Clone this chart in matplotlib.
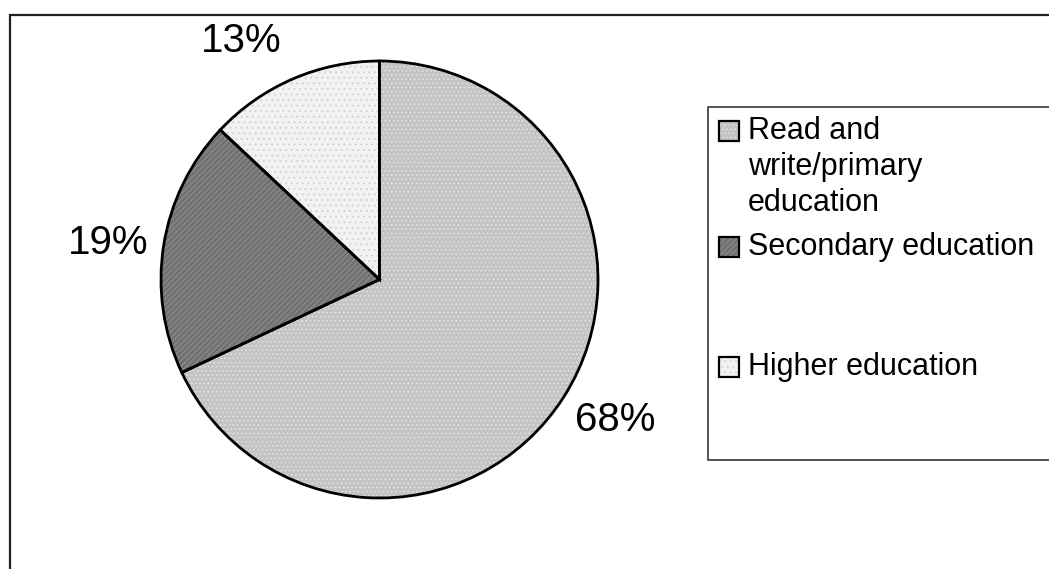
import matplotlib
matplotlib.use("Agg")
import matplotlib.pyplot as plt
from matplotlib.patches import Rectangle, Wedge

plt.rcParams['font.family'] = ['Liberation Sans', 'DejaVu Sans']
plt.rcParams['hatch.linewidth'] = 0.6

# Education level distribution
categories = ["Read and\nwrite/primary\neducation", "Secondary education", "Higher education"]
shares = [68, 19, 13]
fills = ["#c4c4c4", "#808080", "#f2f2f2"]
hatch_colors = ["#e4e4e4", "#5e5e5e", "#cfcfcf"]
hatches = ["....", "//////", "..."]

# Percentage label placement (pie-radius units from the centre)
label_xy = [(1.078, -0.643), (-1.243, 0.167), (-0.634, 1.092)]

W, H = 1049, 569
fig = plt.figure(figsize=(W / 100, H / 100), dpi=100)

# Full-figure overlay in pixel units for the frame and the legend
bg = fig.add_axes([0, 0, 1, 1])
bg.set_xlim(0, W)
bg.set_ylim(H, 0)
bg.axis("off")

# Chart area border (open at right and bottom edges)
bg.plot([10, 10, W + 5], [H + 5, 15, 15], color="#222222", lw=1.6,
        solid_joinstyle="miter")

# Pie
cx, cy, r = 379.5, 279.5, 218.5
pie_ax = fig.add_axes([(cx - r) / W, (H - cy - r) / H, 2 * r / W, 2 * r / H])
wedges, _, pct_texts = pie_ax.pie(
    shares, colors=fills, startangle=90, counterclock=False,
    autopct="%1.0f%%", pctdistance=1.26,
    wedgeprops=dict(edgecolor="none", linewidth=0),
    textprops=dict(fontsize=29, color="black"))
for t, xy in zip(pct_texts, label_xy):
    t.set_position(xy)
# texture layer and outline on each wedge
for w, hc, h in zip(wedges, hatch_colors, hatches):
    pie_ax.add_patch(Wedge(w.center, w.r, w.theta1, w.theta2,
                           facecolor="none", edgecolor=hc, hatch=h, linewidth=0))
    pie_ax.add_patch(Wedge(w.center, w.r, w.theta1, w.theta2,
                           facecolor="none", edgecolor="black", linewidth=2.0,
                           clip_on=False))
pie_ax.set_xlim(-1, 1)
pie_ax.set_ylim(-1, 1)
pie_ax.set_aspect("equal")
pie_ax.axis("off")

# Legend box (open at right edge)
bg.plot([W + 5, 708, 708, W + 5], [107, 107, 460, 460], color="#444444", lw=1.3)

legend_rows = [131, 247, 367]
for label, fc, hc, h, y in zip(categories, fills, hatch_colors, hatches, legend_rows):
    bg.add_patch(Rectangle((719, y - 10), 20, 20, facecolor=fc, edgecolor=hc,
                           hatch=h, linewidth=0))
    bg.add_patch(Rectangle((719, y - 10), 20, 20, facecolor="none",
                           edgecolor="black", linewidth=1.6))
    bg.text(748, y - 15, label, fontsize=22, ha="left", va="top",
            linespacing=1.27, color="black")

fig.savefig("out.png", dpi=100, facecolor="white")
